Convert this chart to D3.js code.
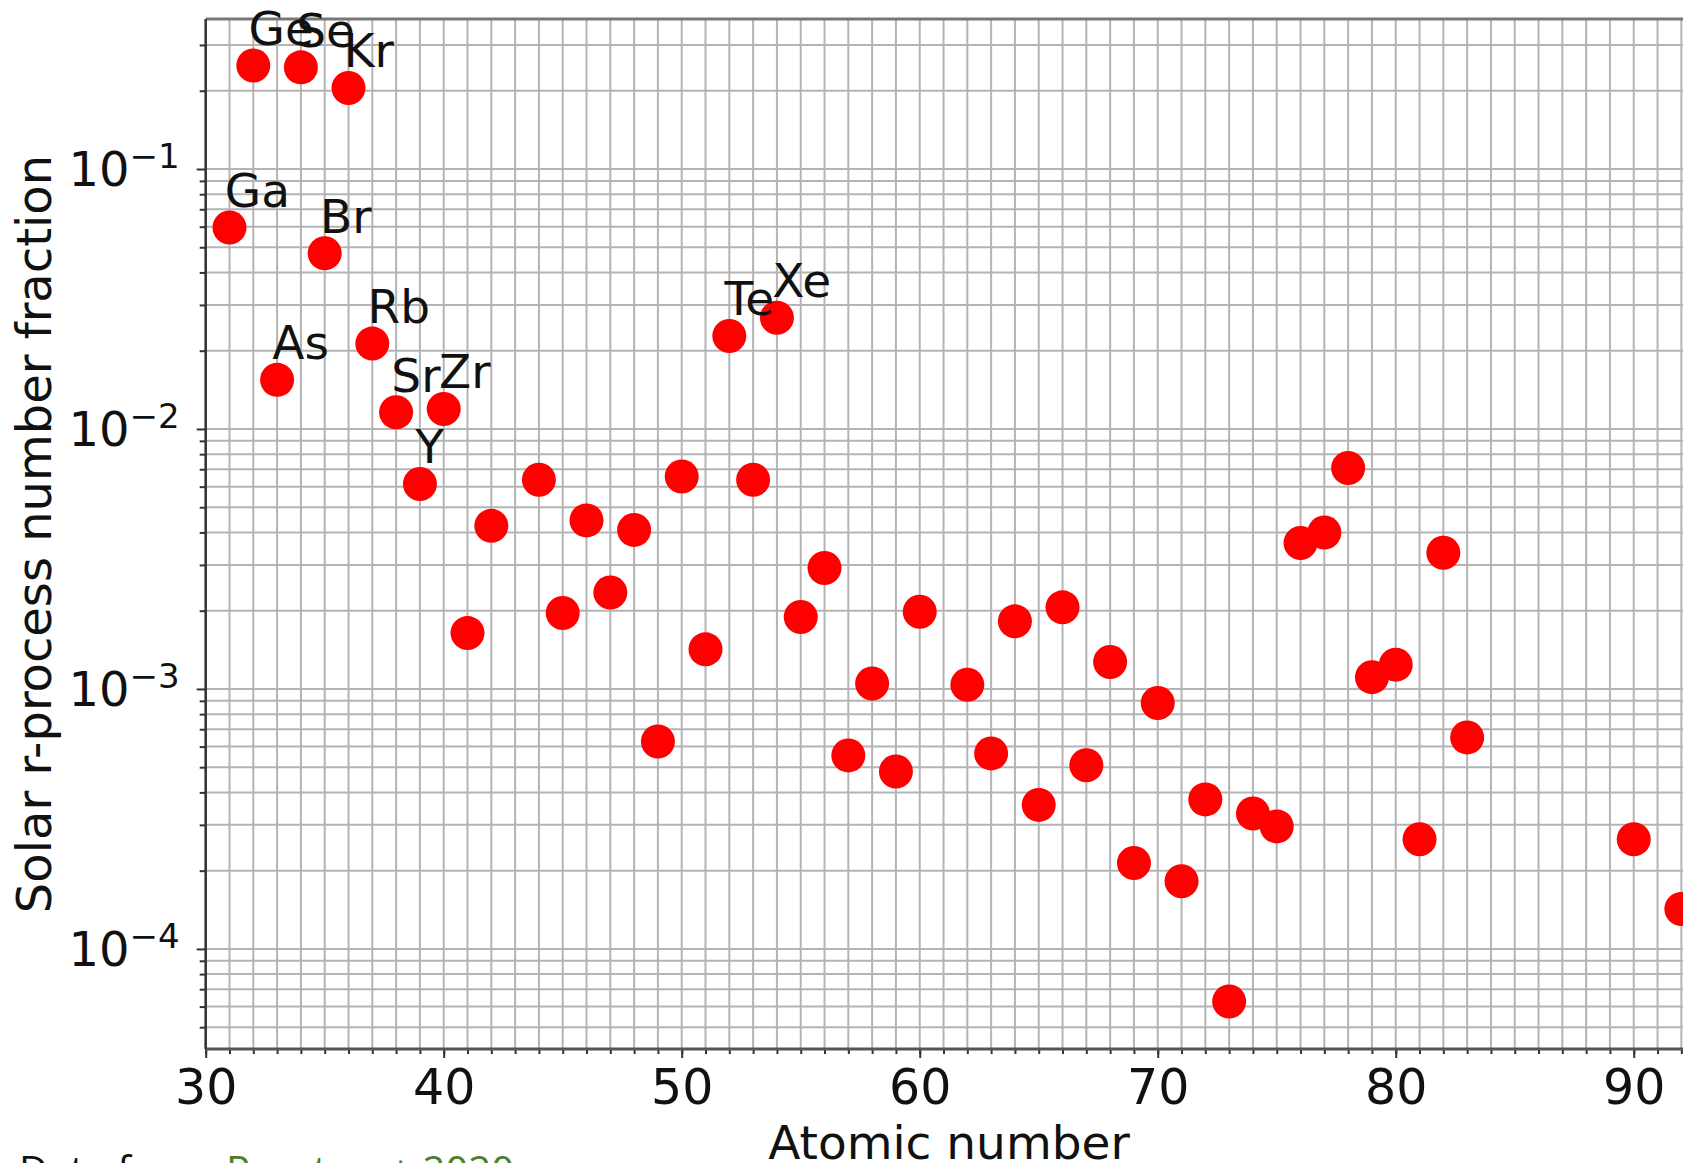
<!DOCTYPE html>
<html>
<head>
<meta charset="utf-8">
<script src="https://cdn.jsdelivr.net/npm/d3@7"></script>
<style>
  body { margin: 0; background: #fff; }
  svg { display: block; font-family: "DejaVu Sans", sans-serif; }
</style>
</head>
<body>
<svg id="chart" width="1683" height="1163"></svg>
<script>
var svgWidth = 1683;
var svgHeight = 1163;

// element symbols and atomic numbers
var elements = ["Ga","Ge","As","Se","Br","Kr","Rb","Sr","Y","Zr","Nb","Mo",
  "Ru","Rh","Pd","Ag","Cd","In","Sn","Sb","Te","I","Xe","Cs","Ba","La","Ce",
  "Pr","Nd","Sm","Eu","Gd","Tb","Dy","Ho","Er","Tm","Yb","Lu","Hf","Ta","W",
  "Re","Os","Ir","Pt","Au","Hg","Tl","Pb","Bi","Th","U"];
var atomicNumber = [31,32,33,34,35,36,37,38,39,40,41,42,
  44,45,46,47,48,49,50,51,52,53,54,55,56,57,58,
  59,60,62,63,64,65,66,67,68,69,70,71,72,73,74,
  75,76,77,78,79,80,81,82,83,90,92];
// solar r-process number fraction
var rFraction = [0.0596,0.250,0.01545,0.246,0.0474,0.205,0.0213,0.0116,0.00614,0.01193,0.00164,0.00424,
  0.00638,0.00196,0.00445,0.00235,0.00409,0.000628,0.00656,0.00142,0.0228,0.00638,0.0268,0.00189,0.00292,0.000555,0.00105,
  0.000481,0.00198,0.001038,0.000565,0.00182,0.000358,0.00206,0.000509,0.00127,0.000214,0.000883,0.000182,0.000376,0.0000628,0.000332,
  0.000296,0.00364,0.00400,0.00708,0.00111,0.00124,0.000264,0.00334,0.000651,0.000264,0.0001425];
// which points get a text label
var labelled = ["Ga","Ge","As","Se","Br","Kr","Rb","Sr","Y","Zr","Te","Xe"];

var xMajorTicks = [30,40,50,60,70,80,90];
var yMajorTicks = [1e-4,1e-3,1e-2,1e-1];
var yTickExponents = ["\u22124","\u22123","\u22122","\u22121"];

var xLabel = "Atomic number";
var yLabel = "Solar r-process number fraction";

// plot box (window.top is reserved, so own names)
var plotLeft = 205.7, plotRight = 1692.3, plotTop = 19, plotBottom = 1049;

var x = d3.scaleLinear().domain([30, 92.46]).range([plotLeft, plotRight]);
var y = d3.scaleLog().domain([Math.pow(10,-4.385), Math.pow(10,-0.423)]).range([plotBottom, plotTop]);

var xMinorTicks = d3.range(30, 93);
var yMinorTicks = [];
[1e-5,1e-4,1e-3,1e-2,1e-1].forEach(function(d){
  for (var k = 2; k < 10; k++) {
    var v = d * k;
    if (v >= y.domain()[0] && v <= y.domain()[1]) yMinorTicks.push(v);
  }
});

var svg = d3.select("#chart");

// grid
var grid = svg.append("g");
grid.selectAll("line.vx")
  .data(xMinorTicks)
  .enter()
  .append("line")
  .attr("x1", function(d){ return x(d); })
  .attr("x2", function(d){ return x(d); })
  .attr("y1", plotTop).attr("y2", plotBottom)
  .attr("stroke", "#b4b4b4")
  .attr("stroke-width", 2);
grid.selectAll("line.hy")
  .data(yMinorTicks.concat(yMajorTicks))
  .enter()
  .append("line")
  .attr("x1", plotLeft).attr("x2", plotRight)
  .attr("y1", function(d){ return y(d); })
  .attr("y2", function(d){ return y(d); })
  .attr("stroke", "#b4b4b4")
  .attr("stroke-width", 2);

// axes
var xAxisMinor = d3.axisBottom(x).tickValues(xMinorTicks).tickSize(5).tickFormat("");
var xAxisMajor = d3.axisBottom(x).tickValues(xMajorTicks).tickSize(9).tickPadding(11);
var yAxisMinor = d3.axisLeft(y).tickValues(yMinorTicks).tickSize(6).tickFormat("");
var yAxisMajor = d3.axisLeft(y).tickValues(yMajorTicks).tickSize(9).tickFormat("");

function styleAxis(g){
  g.select(".domain").remove();
  g.selectAll(".tick line").attr("stroke", "#333").attr("stroke-width", 2);
}

svg.append("g").attr("transform", "translate(0," + plotBottom + ")").call(xAxisMinor).call(styleAxis);
var gx = svg.append("g").attr("transform", "translate(0," + plotBottom + ")").call(xAxisMajor).call(styleAxis);
gx.selectAll(".tick text")
  .attr("font-family", "DejaVu Sans")
  .attr("font-size", 49)
  .attr("fill", "#111");
svg.append("g").attr("transform", "translate(" + plotLeft + ",0)").call(yAxisMinor).call(styleAxis);
svg.append("g").attr("transform", "translate(" + plotLeft + ",0)").call(yAxisMajor).call(styleAxis);

// y tick labels 10^n
var yt = svg.append("g").selectAll("text")
  .data(yMajorTicks)
  .enter()
  .append("text")
  .attr("x", plotLeft - 26)
  .attr("y", function(d){ return y(d) + 17; })
  .attr("text-anchor", "end")
  .attr("fill", "#111");
yt.append("tspan").attr("font-size", 48).text("10");
yt.append("tspan").attr("font-size", 34).attr("dy", -18)
  .text(function(d, i){ return yTickExponents[i]; });

// spines
svg.append("line").attr("x1", plotLeft).attr("x2", plotRight).attr("y1", plotTop).attr("y2", plotTop)
  .attr("stroke", "#777").attr("stroke-width", 3);
svg.append("line").attr("x1", plotLeft).attr("x2", plotRight).attr("y1", plotBottom).attr("y2", plotBottom)
  .attr("stroke", "#555").attr("stroke-width", 3);
svg.append("line").attr("x1", plotRight).attr("x2", plotRight).attr("y1", plotTop).attr("y2", plotBottom)
  .attr("stroke", "#555").attr("stroke-width", 3);
svg.append("line").attr("x1", plotLeft).attr("x2", plotLeft).attr("y1", plotTop).attr("y2", plotBottom)
  .attr("stroke", "#333").attr("stroke-width", 2.5);

// points
var points = atomicNumber.map(function(z, i){ return { z: z, v: rFraction[i], name: elements[i] }; });
svg.append("g").selectAll("circle")
  .data(points)
  .enter()
  .append("circle")
  .attr("cx", function(d){ return x(d.z); })
  .attr("cy", function(d){ return y(d.v); })
  .attr("r", 17)
  .attr("fill", "#ff0000");

// labels
svg.append("g").selectAll("text")
  .data(points.filter(function(d){ return labelled.indexOf(d.name) >= 0; }))
  .enter()
  .append("text")
  .attr("x", function(d){ return x(d.z - 0.2); })
  .attr("y", function(d){ return y(d.v * 1.2); })
  .attr("font-size", 47)
  .attr("fill", "#111")
  .text(function(d){ return d.name; });

// axis labels
svg.append("text")
  .attr("x", (plotLeft + plotRight) / 2)
  .attr("y", 1159)
  .attr("text-anchor", "middle")
  .attr("font-size", 47)
  .attr("fill", "#111")
  .text(xLabel);
svg.append("text")
  .attr("transform", "translate(51," + ((plotTop + plotBottom) / 2) + ") rotate(-90)")
  .attr("text-anchor", "middle")
  .attr("font-size", 48)
  .attr("fill", "#111")
  .text(yLabel);

// source note, cut by the bottom edge
svg.append("text")
  .attr("x", 19).attr("y", 1185)
  .attr("font-family", "Open Sans")
  .attr("font-size", 40)
  .attr("fill", "#111")
  .text("Data from");
svg.append("text")
  .attr("x", 226).attr("y", 1185)
  .attr("font-family", "Open Sans")
  .attr("font-size", 40)
  .attr("fill", "#4c7f2d")
  .text("Prantzos+ 2020");
</script>
</body>
</html>
